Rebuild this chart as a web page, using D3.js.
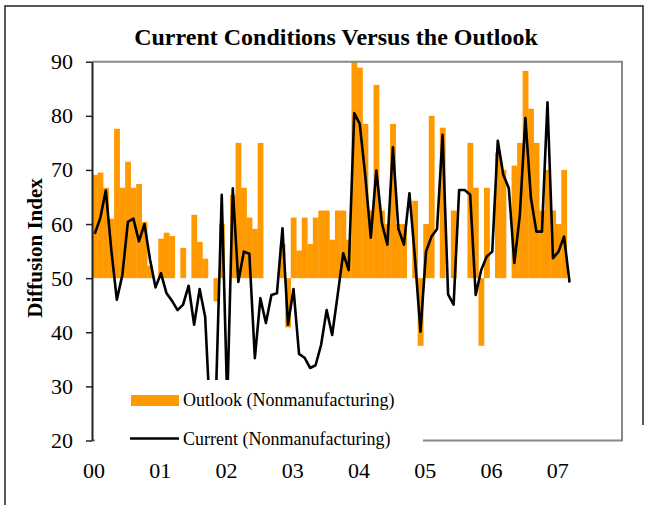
<!DOCTYPE html>
<html>
<head>
<meta charset="utf-8">
<script src="https://cdn.jsdelivr.net/npm/d3@7"></script>
<style>
  body { margin: 0; background: #fff; }
</style>
</head>
<body>
<script>
// monthly values, Jan 2000 .. Mar 2007
var outlook = [
  69.1, 69.5, 66.7, 61.0, 77.6, 66.7, 71.5, 66.7, 67.4, 60.4, 52.3, 50.0,
  57.3, 58.4, 57.8, 50.0, 55.6, 50.0, 61.7, 56.7, 53.6, 50.0, 45.7, 60.0,
  50.0, 65.4, 75.0, 66.7, 61.2, 59.1, 75.0, 50.0, 50.0, 50.0, 56.3, 40.9,
  61.2, 55.1, 61.2, 56.3, 61.2, 62.5, 62.5, 57.1, 62.5, 62.5, 57.1, 90.0,
  88.9, 78.5, 62.5, 85.7, 62.5, 60.0, 78.5, 60.0, 60.0, 50.0, 64.3, 37.5,
  60.0, 80.0, 50.0, 77.8, 50.0, 62.5, 50.0, 50.0, 75.0, 66.7, 37.5, 66.7,
  50.0, 73.2, 70.0, 50.0, 70.8, 75.0, 88.3, 81.3, 75.0, 62.5, 70.0, 62.5,
  60.0, 70.0, 50.0
];
var current = [
  58.2, 61.1, 66.2, 55.2, 46.0, 50.6, 60.4, 61.0, 56.8, 60.0, 53.5, 48.3,
  50.9, 47.2, 45.8, 44.1, 45.1, 48.6, 41.4, 48.0, 42.8, 22.0, 30.0, 65.4,
  27.0, 66.6, 49.3, 54.9, 54.5, 35.2, 46.3, 41.7, 46.9, 47.2, 59.2, 41.4,
  48.0, 36.0, 35.3, 33.4, 33.9, 37.7, 44.1, 39.5, 46.9, 54.6, 51.5, 80.5,
  78.5, 68.9, 57.5, 69.9, 60.2, 56.2, 74.2, 59.1, 56.2, 65.7, 53.7, 40.1,
  54.9, 57.7, 59.1, 76.5, 47.0, 45.1, 66.3, 66.3, 65.4, 46.9, 51.5, 54.0,
  54.9, 75.4, 69.1, 66.6, 52.8, 61.7, 79.6, 64.8, 58.6, 58.6, 82.5, 53.7,
  54.9, 57.7, 49.2
];
var yearLabels = ["00", "01", "02", "03", "04", "05", "06", "07"];
var yTicks = [20, 30, 40, 50, 60, 70, 80, 90];
var baseline = 50;

var width = 652, height = 505;

var svg = d3.select("body").append("svg")
    .attr("width", width)
    .attr("height", height)
    .style("font-family", "'Liberation Serif', 'Times New Roman', serif");

var x = d3.scaleLinear().domain([0, 96]).range([92, 622]);
var y = d3.scaleLinear().domain([20, 90]).range([440.5, 61.7]);

// outer frame (left, top, right)
svg.append("path")
    .attr("d", "M5,505 L5,6 L643,6 L643,425")
    .attr("fill", "none")
    .attr("stroke", "#222")
    .attr("stroke-width", 1.5);

svg.append("defs").append("clipPath").attr("id", "plot")
  .append("rect")
    .attr("x", x(0)).attr("y", y(90))
    .attr("width", x(96) - x(0)).attr("height", y(20) - y(90));

var g = svg.append("g").attr("clip-path", "url(#plot)");

// outlook bars from the 50 line
g.selectAll("rect.bar")
    .data(outlook)
  .enter().append("rect")
    .attr("class", "bar")
    .attr("x", function(d, i) { return x(i); })
    .attr("width", function(d, i) { return x(i + 1) - x(i) + 0.3; })
    .attr("y", function(d) { return y(Math.max(d, baseline)); })
    .attr("height", function(d) { return Math.abs(y(d) - y(baseline)); })
    .attr("fill", "#ff9900");

// current line
var line = d3.line()
    .x(function(d, i) { return x(i + 0.5); })
    .y(function(d) { return y(d); });

g.append("path")
    .datum(current)
    .attr("d", line)
    .attr("fill", "none")
    .attr("stroke", "#000")
    .attr("stroke-width", 2.6)
    .attr("stroke-linejoin", "round");

// grey plot border (top, right, bottom)
svg.append("path")
    .attr("d", "M" + x(0) + "," + y(90) + " H" + x(96) + " V" + y(20) + " H" + x(0))
    .attr("fill", "none")
    .attr("stroke", "#888")
    .attr("stroke-width", 2);

// legend box sits on top of the chart
svg.append("rect")
    .attr("x", 95).attr("y", 380)
    .attr("width", 328).attr("height", 72)
    .attr("fill", "#fff");

var legend = svg.append("g").style("font-size", "18px");
legend.append("rect")
    .attr("x", 131).attr("y", 395)
    .attr("width", 48).attr("height", 11)
    .attr("fill", "#ff9900");
legend.append("text")
    .attr("x", 183).attr("y", 406)
    .text("Outlook (Nonmanufacturing)");
legend.append("line")
    .attr("x1", 130).attr("x2", 179)
    .attr("y1", 438.5).attr("y2", 438.5)
    .attr("stroke", "#000").attr("stroke-width", 2.6);
legend.append("text")
    .attr("x", 183).attr("y", 445)
    .text("Current (Nonmanufacturing)");

// y axis
var yAxis = svg.append("g")
    .attr("transform", "translate(" + x(0) + ",0)")
    .call(d3.axisLeft(y).tickValues(yTicks).tickSize(6).tickSizeOuter(0).tickPadding(13));
yAxis.select(".domain").attr("stroke", "#222").attr("stroke-width", 2);
yAxis.selectAll(".tick line").attr("stroke", "#222").attr("stroke-width", 1.5);
yAxis.selectAll("text")
    .attr("fill", "#000")
    .style("font-family", "'Liberation Serif', serif")
    .style("font-size", "22px");

// x labels (one per year)
var xAxis = svg.append("g")
    .attr("transform", "translate(1.5," + y(20) + ")")
    .call(d3.axisBottom(x)
        .tickValues(d3.range(0, 96, 12))
        .tickFormat(function(d) { return yearLabels[d / 12]; })
        .tickSize(0).tickPadding(22));
xAxis.select(".domain").remove();
xAxis.selectAll("text")
    .attr("fill", "#000")
    .style("font-family", "'Liberation Serif', serif")
    .style("font-size", "22px");

// title
svg.append("text")
    .attr("x", 336).attr("y", 45)
    .attr("text-anchor", "middle")
    .style("font-size", "24px")
    .style("font-weight", "bold")
    .text("Current Conditions Versus the Outlook");

// y label
svg.append("text")
    .attr("transform", "translate(42,248) rotate(-90)")
    .attr("text-anchor", "middle")
    .style("font-size", "21px")
    .style("font-weight", "bold")
    .text("Diffusion Index");
</script>
</body>
</html>
